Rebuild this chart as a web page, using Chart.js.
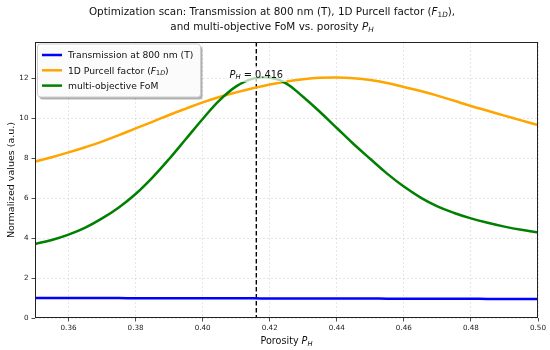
<!DOCTYPE html>
<html>
<head>
<meta charset="utf-8">
<script src="https://cdn.jsdelivr.net/npm/chart.js@4"></script>
<style>
  body { margin: 0; background: #fff; }
  canvas { display: block; }
</style>
</head>
<body>
<canvas id="scan" width="550" height="350"></canvas>
<script>
// --- data (porosity step 0.005) ---
const porosity = [0.35, 0.355, 0.36, 0.365, 0.37, 0.375, 0.38, 0.385, 0.39, 0.395, 0.40, 0.405, 0.41, 0.415, 0.42, 0.425,
    0.43, 0.435, 0.44, 0.445, 0.45, 0.455, 0.46, 0.465, 0.47, 0.475, 0.48, 0.485, 0.49, 0.495, 0.50];
const transmission = [1.00, 0.999, 0.998, 0.997, 0.995, 0.994, 0.993, 0.991, 0.99, 0.988, 0.987, 0.985, 0.983, 0.982, 0.98, 0.979,
    0.977, 0.976, 0.974, 0.972, 0.97, 0.968, 0.966, 0.964, 0.962, 0.96, 0.958, 0.956, 0.954, 0.952, 0.95];
const purcell = [7.82, 8.04, 8.28, 8.54, 8.82, 9.14, 9.48, 9.81, 10.15, 10.47, 10.78, 11.05, 11.28, 11.49, 11.68, 11.83,
    11.94, 12.01, 12.03, 11.99, 11.90, 11.75, 11.55, 11.35, 11.12, 10.86, 10.60, 10.36, 10.12, 9.88, 9.65];
const fom = [3.70, 3.90, 4.17, 4.52, 4.98, 5.53, 6.20, 7.02, 7.95, 8.95, 9.95, 10.88, 11.58, 11.97, 12.02, 11.72,
    11.05, 10.30, 9.50, 8.70, 7.95, 7.22, 6.57, 6.02, 5.58, 5.25, 4.98, 4.76, 4.57, 4.41, 4.28];
const xTicks = [0.36, 0.38, 0.40, 0.42, 0.44, 0.46, 0.48, 0.50];
const yTicks = [0, 2, 4, 6, 8, 10, 12];
const bestP = 0.416;

const FONT = "'DejaVu Sans', sans-serif";
const fontFor = (p, size) => (p.it ? 'italic ' : '') + (p.sub ? size * 0.7 : size).toFixed(2) + 'px ' + FONT;

// draws text made of pieces (italic / subscript), y = vertical middle
function drawRich(ctx, parts, x, y, size, align) {
    let w = 0;
    parts.forEach(p => { ctx.font = fontFor(p, size); w += ctx.measureText(p.t).width; });
    let cx = align === 'center' ? x - w / 2 : x;
    ctx.textAlign = 'left';
    ctx.textBaseline = 'alphabetic';
    parts.forEach(p => {
        ctx.font = fontFor(p, size);
        ctx.fillText(p.t, cx, y + size * 0.36 + (p.sub ? size * 0.2 : 0));
        cx += ctx.measureText(p.t).width;
    });
    return w;
}

const titleLine1 = [{ t: 'Optimization scan: Transmission at 800 nm (T), 1D Purcell factor (' }, { t: 'F', it: 1 }, { t: '1', sub: 1 }, { t: 'D', sub: 1, it: 1 }, { t: '),' }];
const titleLine2 = [{ t: 'and multi-objective FoM vs. porosity ' }, { t: 'P', it: 1 }, { t: 'H', it: 1, sub: 1 }];
const xLabel = [{ t: 'Porosity ' }, { t: 'P', it: 1 }, { t: 'H', it: 1, sub: 1 }];
const markLabel = [{ t: 'P', it: 1 }, { t: 'H', it: 1, sub: 1 }, { t: ' = 0.416' }];
const legendItems = [
    { color: '#0000ff', parts: [{ t: 'Transmission at 800 nm (T)' }] },
    { color: '#ffa500', parts: [{ t: '1D Purcell factor (' }, { t: 'F', it: 1 }, { t: '1', sub: 1 }, { t: 'D', sub: 1, it: 1 }, { t: ')' }] },
    { color: '#008000', parts: [{ t: 'multi-objective FoM' }] }
];

const roundRect = (ctx, x, y, w, h, r) => {
    ctx.beginPath();
    ctx.moveTo(x + r, y);
    ctx.arcTo(x + w, y, x + w, y + h, r);
    ctx.arcTo(x + w, y + h, x, y + h, r);
    ctx.arcTo(x, y + h, x, y, r);
    ctx.arcTo(x, y, x + w, y, r);
    ctx.closePath();
};

const decor = {
    id: 'decor',
    beforeDatasetsDraw(chart) {
        const { ctx, chartArea: a, scales: { x } } = chart;
        const px = x.getPixelForValue(bestP);
        ctx.save();
        ctx.strokeStyle = '#000';
        ctx.lineWidth = 1.4;
        ctx.setLineDash([4.5, 2.5]);
        ctx.beginPath();
        ctx.moveTo(px, a.top);
        ctx.lineTo(px, a.bottom);
        ctx.stroke();
        ctx.restore();
    },
    afterDatasetsDraw(chart) {
        const { ctx, chartArea: a, scales: { x } } = chart;
        ctx.save();
        // spines
        ctx.strokeStyle = '#222';
        ctx.lineWidth = 1;
        ctx.strokeRect(a.left + 0.5, a.top + 0.5, a.right - a.left - 1, a.bottom - a.top - 1);

        // annotation with translucent box
        const px = x.getPixelForValue(bestP);
        ctx.fillStyle = 'rgba(255,255,255,0.7)';
        ctx.fillRect(px - 31, 66, 61, 16);
        ctx.fillStyle = '#111';
        drawRich(ctx, markLabel, px, 74, 9.8, 'center');

        // legend
        ctx.fillStyle = 'rgba(0,0,0,0.3)';
        roundRect(ctx, 39.5, 46.5, 163, 53, 3);
        ctx.fill();
        ctx.fillStyle = 'rgba(255,255,255,0.95)';
        ctx.strokeStyle = '#cccccc';
        roundRect(ctx, 37.5, 44, 163, 53, 3);
        ctx.fill();
        ctx.stroke();
        legendItems.forEach((it, i) => {
            const y = 55 + i * 15.3;
            ctx.strokeStyle = it.color;
            ctx.lineWidth = 2.5;
            ctx.beginPath();
            ctx.moveTo(42, y);
            ctx.lineTo(62, y);
            ctx.stroke();
            ctx.fillStyle = '#111';
            drawRich(ctx, it.parts, 68, y, 9.2, 'left');
        });

        // titles
        ctx.fillStyle = '#111';
        drawRich(ctx, titleLine1, 272, 11, 10.4, 'center');
        drawRich(ctx, titleLine2, 272, 26, 10.4, 'center');
        drawRich(ctx, xLabel, (a.left + a.right) / 2, 341, 9.6, 'center');
        ctx.translate(11, (a.top + a.bottom) / 2);
        ctx.rotate(-Math.PI / 2);
        drawRich(ctx, [{ t: 'Normalized values (a.u.)' }], 0, 0, 9.5, 'center');
        ctx.restore();
    }
};

const pts = vals => porosity.map((p, i) => ({ x: p, y: vals[i] }));
const line = (label, vals, color, order) => ({
    label, data: pts(vals), borderColor: color, backgroundColor: color,
    borderWidth: 2.5, pointRadius: 0, tension: 0.4, fill: false, order
});

const gridOpts = { color: 'rgba(0,0,0,0.12)', lineWidth: 0.8, tickLength: 3.5, tickColor: '#222', tickWidth: 0.8, tickBorderDash: [] };
const tickFont = { family: FONT, size: 7.2 };

new Chart(document.getElementById('scan'), {
    type: 'line',
    data: {
        datasets: [
            line('Transmission at 800 nm (T)', transmission, '#0000ff', 2),
            line('1D Purcell factor (F1D)', purcell, '#ffa500', 1),
            line('multi-objective FoM', fom, '#008000', 0)
        ]
    },
    options: {
        responsive: false,
        animation: false,
        devicePixelRatio: 1,
        layout: { padding: { top: 42, right: 12, left: 0, bottom: 0 } },
        plugins: { legend: { display: false }, title: { display: false }, tooltip: { enabled: false } },
        scales: {
            x: {
                type: 'linear', min: 0.35, max: 0.50,
                grid: gridOpts,
                border: { display: false, dash: [2, 2] },
                ticks: { font: tickFont, color: '#222', padding: 2, maxRotation: 0, callback: v => v.toFixed(2) },
                afterBuildTicks: s => { s.ticks = xTicks.map(v => ({ value: v })); },
                afterFit: s => { s.height = 32; s.paddingLeft = 0; s.paddingRight = 0; }
            },
            y: {
                min: 0, max: 13.8,
                grid: gridOpts,
                border: { display: false, dash: [2, 2] },
                ticks: { font: tickFont, color: '#222', padding: 3, callback: v => String(v) },
                afterBuildTicks: s => { s.ticks = yTicks.map(v => ({ value: v })); },
                afterFit: s => { s.width = 35; s.paddingTop = 0; s.paddingBottom = 0; }
            }
        }
    },
    plugins: [decor]
});
</script>
</body>
</html>
